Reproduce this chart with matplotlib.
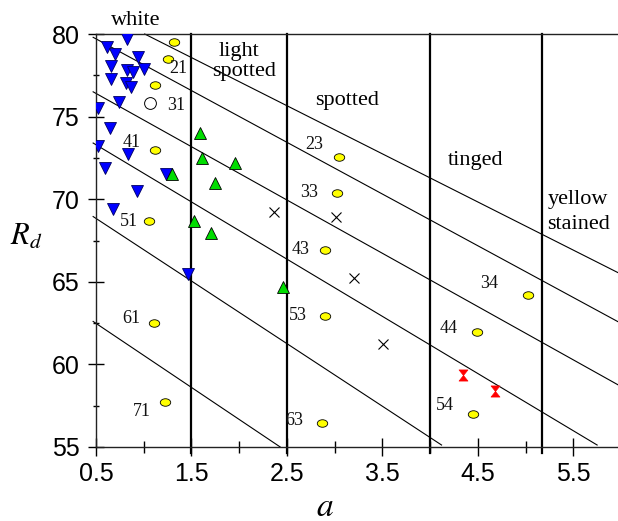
import numpy as np
import matplotlib
matplotlib.use("Agg")
import matplotlib.pyplot as plt
from matplotlib.path import Path
from matplotlib.ticker import FixedLocator, FormatStrFormatter

# -------- DATA --------
blue_a = [0.62, 0.82, 0.70, 0.94, 0.66, 0.82, 0.89, 1.00, 0.66, 0.81, 0.87,
          0.74, 0.52, 0.65, 0.52, 0.84, 0.59, 1.23, 0.93, 0.68, 1.46]
blue_r = [79.2, 79.7, 78.8, 78.6, 78.05, 77.8, 77.7, 77.9, 77.3, 77.05, 76.8,
          75.9, 75.5, 74.3, 73.2, 72.75, 71.9, 71.5, 70.5, 69.4, 65.5]

green_a = [1.59, 1.61, 1.96, 1.30, 1.75, 1.53, 1.70, 2.46]
green_r = [74.0, 72.5, 72.2, 71.5, 71.0, 68.7, 67.95, 64.7]

yellow_a = [1.32, 1.25, 1.12, 1.12, 1.06, 1.11, 1.22,
            3.05, 3.03, 2.90, 2.90, 2.87, 5.03, 4.49, 4.45]
yellow_r = [79.5, 78.5, 76.9, 73.0, 68.7, 62.5, 57.75,
            72.55, 70.4, 66.9, 62.95, 56.45, 64.2, 61.95, 57.0]

open_a = [1.07]
open_r = [75.8]

cross_a = [2.36, 3.01, 3.20, 3.51]
cross_r = [69.2, 68.95, 65.2, 61.25]

red_a = [4.35, 4.68]
red_r = [59.35, 58.4]

# numbered points
num_labels = ["21", "31", "41", "51", "61", "71", "23", "33", "43", "53", "63",
              "34", "44", "54"]
num_a = [1.36, 1.34, 0.87, 0.85, 0.87, 0.98, 2.79, 2.73, 2.64, 2.62, 2.58,
         4.62, 4.19, 4.16]
num_r = [77.9, 75.65, 73.45, 68.65, 62.8, 57.15, 73.3, 70.4, 66.95, 62.95, 56.6,
         64.9, 62.2, 57.5]

# class boundaries (a) and iso lines (start a, start Rd, end a, end Rd)
bounds = [1.5, 2.5, 4.0, 5.17]
iso_a0 = [1.01, 0.47, 0.47, 0.47, 0.47, 0.47]
iso_r0 = [80.0, 79.8, 76.5, 73.4, 68.95, 62.6]
iso_a1 = [5.97, 5.97, 5.97, 5.75, 4.12, 2.43]
iso_r1 = [65.55, 62.58, 58.76, 55.12, 55.12, 55.0]

regions = ["white", "light", "spotted", "spotted", "tinged", "yellow", "stained"]
region_a = [0.92, 2.00, 2.05, 3.13, 4.48, 5.55, 5.56]
region_r = [80.52, 78.66, 77.48, 75.73, 72.09, 69.73, 68.19]

# -------- MARKERS --------
circ = Path.unit_circle()
ellipse = Path(circ.vertices * np.array([1.0, 0.72]), circ.codes)
hourglass = Path([(-0.8, 1), (0.8, 1), (0, 0), (0.8, -1), (-0.8, -1), (0, 0), (-0.8, 1)],
                 [Path.MOVETO] + [Path.LINETO] * 5 + [Path.CLOSEPOLY])

plt.rcParams['mathtext.fontset'] = 'stix'
serif = 'Liberation Serif'
sans = 'Liberation Sans'

fig = plt.figure(figsize=(6.18, 5.21), dpi=100)
ax = fig.add_axes([96 / 618, 1 - 447 / 521, 525 / 618, 413 / 521])
ax.set_xlim(0.5, 6.0)
ax.set_ylim(55, 80)

# -------- LINES --------
for a0, r0, a1, r1 in zip(iso_a0, iso_r0, iso_a1, iso_r1):
    ax.plot([a0, a1], [r0, r1], color='black', lw=0.8, clip_on=False, zorder=1)
for b in bounds:
    ax.axvline(b, ymin=-0.015, ymax=1, color='black', lw=1.6, clip_on=False, zorder=1)

# -------- POINTS --------
ax.plot(blue_a, blue_r, 'v', ms=8, mfc='#0000ff', mec='#000060', mew=0.6, ls='none', zorder=3)
ax.plot(green_a, green_r, '^', ms=8, mfc='#00dd00', mec='black', mew=0.6, ls='none', zorder=4)
ax.plot(yellow_a, yellow_r, marker=ellipse, ms=7.5, mfc='#ffff00', mec='black', mew=0.6,
        ls='none', zorder=3)
ax.plot(open_a, open_r, 'o', ms=8.5, mfc='white', mec='black', mew=0.7, ls='none', zorder=3)
ax.plot(cross_a, cross_r, 'x', ms=7, mec='black', mew=0.8, ls='none', zorder=3)
ax.plot(red_a, red_r, marker=hourglass, ms=8, mfc='#ff0000', mec='#ff0000', mew=0.5,
        ls='none', zorder=3)

for t, a, r in zip(num_labels, num_a, num_r):
    ax.text(a, r, t, ha='center', va='center', fontsize=13, family=serif, color='#111111')
for t, a, r in zip(regions, region_a, region_r):
    ax.text(a, r, t, ha='center', va='baseline', fontsize=16, family=serif, clip_on=False)

# -------- AXES STYLE --------
ax.spines['right'].set_visible(False)
for s in ['left', 'bottom', 'top']:
    ax.spines[s].set_linewidth(1.0)
    ax.spines[s].set_color('#222222')

ax.xaxis.set_major_locator(FixedLocator([0.5, 1.5, 2.5, 3.5, 4.5, 5.5]))
ax.xaxis.set_minor_locator(FixedLocator([1, 2, 3, 4, 5, 6]))
ax.xaxis.set_major_formatter(FormatStrFormatter('%.1f'))
ax.yaxis.set_major_locator(FixedLocator([55, 60, 65, 70, 75, 80]))
ax.yaxis.set_minor_locator(FixedLocator([57.5, 62.5, 67.5, 72.5, 77.5]))
ax.tick_params(axis='x', which='major', direction='inout', length=13, width=1, pad=4.5,
               labelsize=18, top=False)
ax.tick_params(axis='x', which='minor', direction='inout', length=8.5, width=1, top=False)
ax.tick_params(axis='y', which='major', direction='inout', length=11.5, width=1, pad=6,
               labelsize=18, right=False)
ax.tick_params(axis='y', which='minor', direction='inout', length=5, width=1, right=False)
for lab in ax.get_xticklabels() + ax.get_yticklabels():
    lab.set_family(sans)

fig.text(325 / 618, 1 - 506 / 521, '$a$', ha='center', va='center', fontsize=24)
fig.text(26 / 618, 1 - 236 / 521, '$R_d$', ha='center', va='center', fontsize=22)

fig.savefig('out.png', dpi=100)
